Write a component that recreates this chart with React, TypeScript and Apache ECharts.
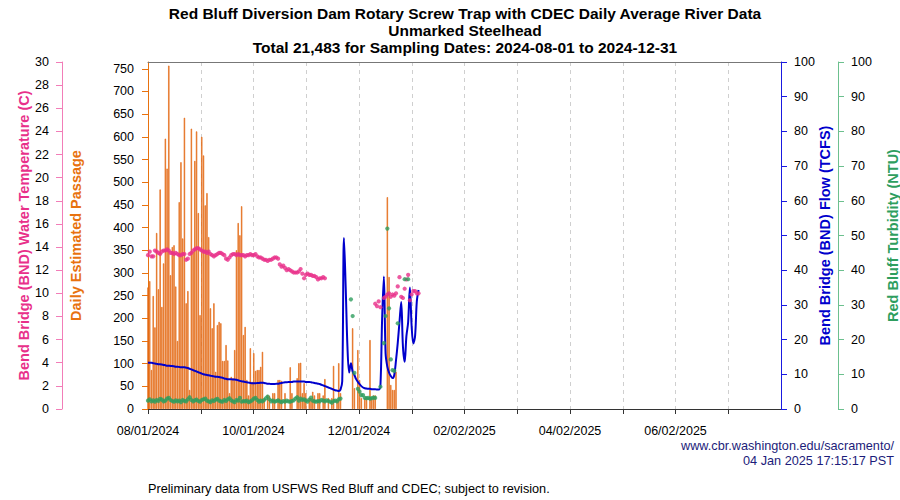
import React, { useEffect, useRef } from "react";
import * as echarts from "echarts";

// ---- Data (day index 0 = 2024-08-01) ----
const X_RANGE_DAYS = 365;
const xTickLabels = ["08/01/2024", "10/01/2024", "12/01/2024", "02/02/2025", "04/02/2025", "06/02/2025"];
const passageTicks = [0, 50, 100, 150, 200, 250, 300, 350, 400, 450, 500, 550, 600, 650, 700, 750];

// Daily Estimated Passage, days 0..143 (0 = no bar)
const passage = [
  268, 282, 86, 249, 180, 388, 264, 484, 225, 321,
  596, 530, 757, 295, 357, 361, 270, 150, 456, 544,
  376, 642, 233, 260, 42, 618, 347, 547, 612, 432,
  207, 600, 559, 449, 476, 379, 222, 178, 233, 82,
  185, 192, 189, 106, 106, 141, 107, 35, 71, 68,
  130, 350, 410, 383, 447, 163, 181, 64, 30, 134,
  60, 123, 84, 86, 86, 93, 126, 22, 0, 31,
  29, 0, 35, 35, 0, 64, 64, 62, 0, 35,
  0, 0, 92, 35, 0, 0, 68, 101, 102, 35,
  57, 35, 0, 24, 24, 38, 30, 0, 35, 35,
  0, 30, 66, 0, 24, 0, 24, 95, 0, 20,
  101, 35, 0, 0, 0, 0, 0, 0, 178, 46,
  0, 130, 64, 24, 0, 24, 24, 0, 152, 24,
  30, 30, 0, 0, 0, 0, 0, 0, 467, 291,
  53, 42, 42, 82,
];

// Water temperature (C): days 0..102, then days 131..156
const temperatureEarly = [
  13.3, 13.6, 13.2, 13.2, 13.7, 13.6, 13.5, 13.4, 13.6, 13.7,
  13.7, 13.8, 13.7, 13.5, 13.5, 13.4, 13.5, 13.4, 13.3, 13.3,
  13.4, 13.4, 12.9, 13.0, 13.4, 13.5, 13.7, 13.8, 13.9, 13.9,
  13.8, 13.7, 13.6, 13.6, 13.5, 13.6, 13.4, 13.3, 13.2, 13.3,
  13.4, 13.5, 13.5, 13.4, 13.3, 13.0, 12.9, 13.1, 13.3, 13.4,
  13.4, 13.3, 13.4, 13.3, 13.3, 13.3, 13.2, 13.3, 13.3, 13.4,
  13.3, 13.3, 13.4, 13.2, 13.1, 13.1, 13.0, 12.9, 12.9, 12.8,
  12.9, 12.9, 13.0, 13.1, 13.1, 13.0, 12.5, 12.3, 12.4, 12.2,
  12.0, 12.1, 12.0, 11.9, 11.8, 11.8, 11.8, 11.9, 12.1, 11.7,
  11.3, 11.6, 11.7, 11.6, 11.6, 11.5, 11.5, 11.4, 11.2, 11.3,
  11.3, 11.4, 11.3,
];
const temperatureLateStart = 131;
const temperatureLate = [
  9.1, 8.9, 9.3, 8.8, null, 9.6, 9.7, 9.9, 10.0, 9.7,
  9.9, 9.8, 10.0, 10.6, 11.4, 9.7, 9.6, 10.4, 11.2, 11.6,
  9.4, 9.9, 10.2, 10.2, 10.0, 10.0,
];

// Bend Bridge flow (TCFS): days 0..156
const flow = [
  13.4, 13.3, 13.3, 13.2, 13.1, 13.0, 12.9, 12.9, 12.8, 12.7,
  12.6, 12.5, 12.5, 12.4, 12.4, 12.3, 12.2, 12.2, 12.1, 12.0,
  12.0, 12.0, 11.9, 11.8, 11.6, 11.4, 11.2, 11.0, 10.8, 10.6,
  10.4, 10.2, 10.0, 9.9, 9.8, 9.7, 9.6, 9.5, 9.4, 9.3,
  9.3, 9.2, 9.1, 9.0, 8.8, 8.7, 8.6, 8.6, 8.6, 8.5,
  8.5, 8.4, 8.3, 8.1, 8.0, 7.9, 7.8, 7.7, 7.6, 7.5,
  7.4, 7.4, 7.4, 7.5, 7.5, 7.6, 7.6, 7.5, 7.4, 7.3,
  7.3, 7.2, 7.2, 7.2, 7.3, 7.3, 7.4, 7.5, 7.6, 7.7,
  7.7, 7.8, 7.8, 7.8, 7.9, 7.9, 7.9, 7.9, 7.9, 7.9,
  7.9, 7.8, 7.8, 7.8, 7.7, 7.6, 7.5, 7.4, 7.3, 7.2,
  7.0, 6.8, 6.6, 6.4, 6.2, 6.0, 5.8, 5.6, 5.4, 5.3,
  5.2, 5.6, 8.0, 49.3, 35.0, 18.0, 10.5, 13.2, 10.8, 9.8,
  8.6, 7.8, 7.2, 6.6, 6.2, 6.0, 5.9, 5.8, 5.8, 5.7,
  5.7, 5.7, 5.6, 5.6, 6.5, 26.0, 38.2, 16.0, 12.2, 10.5,
  9.5, 8.9, 9.8, 14.0, 19.0, 25.0, 30.8, 18.0, 13.6, 21.0,
  25.0, 35.0, 24.0, 18.9, 21.0, 31.0, 34.3,
];

// Red Bluff turbidity (NTU): days 0..111, then days 117..150
const turbidityEarly = [
  2.4, 2.8, 2.2, 2.5, 2.1, 2.6, 2.3, 2.9, 2.7, 2.2,
  2.4, 3.0, 3.2, 2.6, 2.3, 2.1, 2.5, 2.2, 2.4, 2.0,
  2.6, 2.3, 2.2, 2.8, 3.4, 2.6, 2.2, 2.5, 2.7, 2.3,
  2.1, 2.6, 2.8, 3.0, 2.4, 2.2, 2.0, 2.5, 2.3, 2.7,
  2.9, 2.4, 2.2, 2.1, 2.6, 2.3, 2.8, 3.1, 2.5, 2.2,
  2.0, 2.6, 2.4, 3.2, 2.1, 2.3, 2.2, 2.4, 2.0, 2.2,
  2.5, 3.0, 3.2, 2.6, 2.1, 2.4, 2.2, 2.6, 3.1, 3.6,
  2.8, 2.2, 2.4, 2.1, 2.3, 2.5, 2.2, 2.0, 2.3, 2.1,
  2.4, 2.2, 2.1, 2.3, 2.5, 3.0, 3.4, 2.4, 3.0, 2.6,
  2.8, 2.4, 2.1, 2.7, 3.3, 2.4, 2.2, 2.1, 2.3, 2.2,
  2.6, 2.4, 2.2, 2.5, 2.3, 2.1, 1.8, 2.3, 2.4, 2.2,
  2.8, 3.0,
];
const turbidityLateStart = 117;
const turbidityLate = [
  31.6, 26.8, 10.4, null, 5.8, 5.0, 4.0, 4.0, 3.2, 3.1,
  3.2, 3.0, 3.1, 3.3, 3.2, null, null, 6.4, null, 19.0,
  26.8, 52.0, 29.0, 14.3, 11.2, 11.0, null, 24.7, null, null,
  null, 37.4, null, 37.4,
];

const FONT = "'Liberation Sans', Arial, Helvetica, sans-serif";
const PINK = "#E8308A";
const ORANGE = "#E8720F";
const BLUE = "#0000CC";
const GREEN = "#2E9E5E";

function pairs(values: (number | null)[], start: number) {
  const out: [number, number][] = [];
  values.forEach((v, i) => {
    if (v !== null && v !== undefined) out.push([start + i, v]);
  });
  return out;
}

export default function App() {
  const ref = useRef<HTMLDivElement>(null);

  useEffect(() => {
    if (!ref.current) return;
    const chart = echarts.init(ref.current, undefined, { renderer: "svg" });
    const step = X_RANGE_DAYS / 12;

    const yAxisBase = (color: string, axisColor: string) => ({
      type: "value",
      min: 0,
      splitLine: { show: false },
      axisLine: { show: true, onZero: false, lineStyle: { color: axisColor, width: 1 } },
      axisTick: { show: true, length: 6, lineStyle: { color: axisColor } },
      axisLabel: { color: "#000", fontSize: 12.5, fontFamily: FONT, margin: 13 },
      nameLocation: "middle",
      nameRotate: 90,
      nameMoveOverlap: false,
      nameTextStyle: { color, fontSize: 14.5, fontWeight: "bold", fontFamily: FONT },
    });

    const option: any = {
      animation: false,
      backgroundColor: "#fff",
      grid: { left: 148, right: 119, top: 62, bottom: 91, containLabel: false, outerBoundsMode: "none" },
      xAxis: [
        {
          type: "value",
          min: 0,
          max: X_RANGE_DAYS,
          interval: step,
          axisLine: { show: true, onZero: false, lineStyle: { color: "#333" } },
          axisTick: { show: true, length: 5, lineStyle: { color: "#333" } },
          axisLabel: {
            color: "#000",
            fontSize: 12.5,
            fontFamily: FONT,
            margin: 15,
            showMaxLabel: false,
            formatter: (v: number) => {
              const idx = Math.round(v / step);
              if (idx % 2 === 0 && idx / 2 < xTickLabels.length) return xTickLabels[idx / 2];
              return "";
            },
          },
          splitLine: { show: true, lineStyle: { color: "#cfcfcf", type: [4, 4], width: 1 } },
        },
        {
          type: "value",
          position: "top",
          min: 0,
          max: X_RANGE_DAYS,
          axisLine: { show: true, onZero: false, lineStyle: { color: "#777" } },
          axisTick: { show: false },
          axisLabel: { show: false },
          splitLine: { show: false },
        },
      ],
      yAxis: [
        {
          ...yAxisBase(ORANGE, ORANGE),
          position: "left",
          offset: 0,
          max: 765,
          name: "Daily Estimated Passage",
          nameGap: 65,
          axisTick: { show: true, length: 6, lineStyle: { color: ORANGE }, customValues: passageTicks },
          axisLabel: { color: "#000", fontSize: 12.5, fontFamily: FONT, margin: 14, customValues: passageTicks },
        },
        {
          ...yAxisBase(PINK, "#F27DB8"),
          position: "left",
          offset: 86,
          max: 30,
          interval: 2,
          name: "Bend Bridge (BND) Water Temperature (C)",
          nameGap: 31,
        },
        {
          ...yAxisBase(BLUE, "#1a1ae0"),
          position: "right",
          offset: 0,
          max: 100,
          interval: 10,
          name: "Bend Bridge (BND) Flow (TCFS)",
          nameGap: 36,
        },
        {
          ...yAxisBase(GREEN, "#6cc08e"),
          position: "right",
          offset: 57,
          max: 100,
          interval: 10,
          name: "Red Bluff Turbidity (NTU)",
          nameGap: 47,
        },
      ],
      series: [
        {
          name: "Passage",
          type: "bar",
          xAxisIndex: 0,
          yAxisIndex: 0,
          barWidth: 1.3,
          itemStyle: { color: "#EE8B40", borderColor: "#E0620A", borderWidth: 0.6 },
          data: pairs(passage.map((v) => (v > 0 ? v : null)), 0),
          z: 1,
        },
        {
          name: "Flow",
          type: "line",
          yAxisIndex: 2,
          showSymbol: false,
          symbol: "none",
          smooth: 0.35,
          lineStyle: { color: BLUE, width: 2 },
          data: pairs(flow, 0),
          z: 3,
        },
        {
          name: "Temperature",
          type: "scatter",
          yAxisIndex: 1,
          symbolSize: 4.2,
          itemStyle: { color: PINK },
          data: [...pairs(temperatureEarly, 0), ...pairs(temperatureLate, temperatureLateStart)],
          z: 4,
        },
        {
          name: "Turbidity",
          type: "scatter",
          yAxisIndex: 3,
          symbolSize: 4.2,
          itemStyle: { color: GREEN },
          data: [...pairs(turbidityEarly, 0), ...pairs(turbidityLate, turbidityLateStart)],
          z: 5,
        },
      ],
      graphic: [
        {
          type: "text",
          x: 465,
          y: 13,
          style: {
            text: "Red Bluff Diversion Dam Rotary Screw Trap with CDEC Daily Average River Data",
            fill: "#000", font: `bold 15.5px ${FONT}`, align: "center", verticalAlign: "middle",
          },
        },
        {
          type: "text",
          x: 465,
          y: 30,
          style: { text: "Unmarked Steelhead", fill: "#000", font: `bold 15.5px ${FONT}`, align: "center", verticalAlign: "middle" },
        },
        {
          type: "text",
          x: 465,
          y: 47,
          style: {
            text: "Total 21,483 for Sampling Dates: 2024-08-01 to 2024-12-31",
            fill: "#000", font: `bold 15.5px ${FONT}`, align: "center", verticalAlign: "middle",
          },
        },
        {
          type: "text",
          x: 894,
          y: 446,
          style: { text: "www.cbr.washington.edu/sacramento/", fill: "#1C1C7A", font: `12.7px ${FONT}`, align: "right", verticalAlign: "middle" },
        },
        {
          type: "text",
          x: 894,
          y: 461,
          style: { text: "04 Jan 2025 17:15:17 PST", fill: "#1C1C7A", font: `12.7px ${FONT}`, align: "right", verticalAlign: "middle" },
        },
        {
          type: "text",
          x: 148,
          y: 489,
          style: {
            text: "Preliminary data from USFWS Red Bluff and CDEC; subject to revision.",
            fill: "#000", font: `12.7px ${FONT}`, align: "left", verticalAlign: "middle",
          },
        },
      ],
    };

    chart.setOption(option);
    return () => chart.dispose();
  }, []);

  return (
    <div
      ref={ref}
      style={{ position: "absolute", left: 0, top: 0, width: 900, height: 500, background: "#fff" }}
    />
  );
}
